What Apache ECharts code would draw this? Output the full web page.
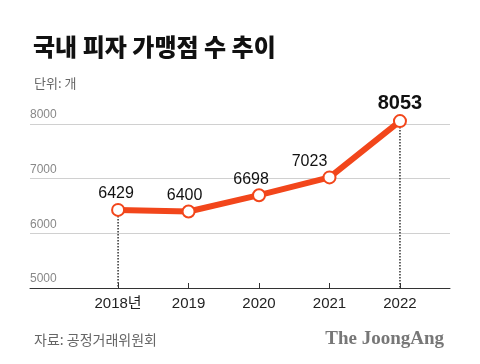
<!DOCTYPE html>
<html><head><meta charset="utf-8">
<script src="https://cdn.jsdelivr.net/npm/echarts@6/dist/echarts.min.js"></script>
<style>html,body{margin:0;padding:0;background:#fff;}#c{width:480px;height:364px;}</style>
</head><body><div id="c"></div>
<script>
var years = [2018, 2019, 2020, 2021, 2022];
var yearLabels = ['2018년', '2019', '2020', '2021', '2022'];
var counts = [6429, 6400, 6698, 7023, 8053];
var yTicks = [5000, 6000, 7000, 8000];
var dropYears = [2018, 2022];

var labelOffsets = [[-2, 0], [-4, 0], [-8, 0], [-20, 0], [0, 0]];
var ko = '"Noto Sans CJK KR", "Noto Sans", sans-serif';
var num = '"Liberation Sans", Arial, "Noto Sans CJK KR", sans-serif';

var data = years.map(function (y, i) {
  var last = i === years.length - 1;
  return {
    value: [y, counts[i]],
    label: {
      offset: labelOffsets[i],
      fontSize: last ? 20 : 16,
      fontWeight: last ? 'bold' : 'normal'
    }
  };
});

var dropSeries = dropYears.map(function (y) {
  var v = counts[years.indexOf(y)];
  return {
    type: 'line',
    data: [[y, v], [y, yTicks[0]]],
    symbol: 'none',
    clip: false,
    silent: true,
    lineStyle: { color: '#333', type: 'dotted', width: 1.5 },
    z: 1
  };
});

var chart = echarts.init(document.getElementById('c'));
chart.setOption({
  animation: false,
  backgroundColor: '#fff',
  title: [
    { text: '국내 피자 가맹점 수 추이', left: 28, top: 30,
      textStyle: { fontFamily: ko, fontSize: 24, fontWeight: 900, color: '#111' } },
    { text: '단위: 개', left: 29, top: 72,
      textStyle: { fontFamily: ko, fontSize: 13, fontWeight: 'normal', color: '#666' } },
    { text: '자료: 공정거래위원회', left: 29, top: 328,
      textStyle: { fontFamily: ko, fontSize: 14, fontWeight: 'normal', color: '#666' } },
    { text: 'The JoongAng', right: 31, top: 325,
      textStyle: { fontFamily: '"Liberation Serif", "DejaVu Serif", serif', fontSize: 19, fontWeight: 'bold', color: '#777' } }
  ],
  grid: { left: 30, right: 30, top: 124, bottom: 76 },
  xAxis: {
    type: 'value',
    min: 2016.75,
    max: 2022.71,
    splitLine: { show: false },
    axisLine: { show: true, onZero: false, lineStyle: { color: '#333', width: 1 } },
    axisTick: { show: true, inside: true, length: 5, customValues: years, lineStyle: { color: '#333' } },
    axisLabel: {
      customValues: years,
      margin: 8,
      fontFamily: num, fontSize: 15, color: '#222',
      formatter: function (v) { var i = years.indexOf(Math.round(v)); return i >= 0 ? yearLabels[i] : ''; }
    }
  },
  yAxis: {
    type: 'value',
    min: 5000, max: 8000, interval: 1000,
    axisLine: { show: false },
    axisTick: { show: false },
    splitLine: { show: true, lineStyle: { color: '#d0d0d0', width: 1 } },
    axisLabel: {
      inside: true, margin: 0,
      verticalAlign: 'bottom',
      padding: [0, 0, 3, 0],
      fontFamily: num, fontSize: 12, color: '#888',
      customValues: yTicks,
      formatter: function (v) { return String(v); }
    }
  },
  series: [{
    type: 'line',
    data: data,
    clip: false,
    symbol: 'circle',
    symbolSize: 12,
    lineStyle: { color: '#f2461b', width: 6 },
    itemStyle: { color: '#fff', borderColor: '#f2461b', borderWidth: 2 },
    label: { show: true, position: 'top', distance: 1, fontFamily: num, color: '#111',
      formatter: function (p) { return p.value[1]; } },
    z: 3
  }].concat(dropSeries)
});
</script></body></html>
